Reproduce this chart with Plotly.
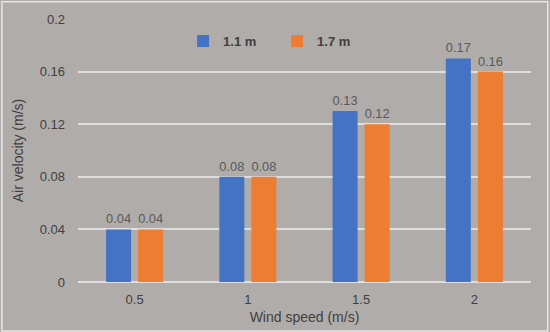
import plotly.graph_objects as go

categories = ["0.5", "1", "1.5", "2"]
series_names = ["1.1 m", "1.7 m"]
values_11 = [0.04, 0.08, 0.13, 0.17]
values_17 = [0.04, 0.08, 0.12, 0.16]
y_ticks = [0, 0.04, 0.08, 0.12, 0.16, 0.2]
y_tick_labels = ["0", "0.04", "0.08", "0.12", "0.16", "0.2"]

FONT = "Liberation Sans"
BG = "#b0acaa"

fig = go.Figure()
for name, vals, color in [(series_names[0], values_11, "#4472C4"),
                          (series_names[1], values_17, "#ED7D31")]:
    fig.add_trace(go.Bar(
        x=categories, y=vals, name=name,
        marker=dict(color=color, line=dict(width=0)),
        text=[f"{v:g}" for v in vals], textposition="outside",
        textfont=dict(family=FONT, size=13, color="#595959"),
        cliponaxis=False,
    ))

fig.update_layout(
    width=550, height=332,
    margin=dict(l=78, r=19, t=19, b=50, autoexpand=False),
    paper_bgcolor=BG, plot_bgcolor=BG,
    barmode="group", bargap=0.434, bargroupgap=0.22,
    font=dict(family=FONT, size=13, color="#404040"),
    showlegend=True,
    legend=dict(orientation="h", x=0.232, y=0.916, xanchor="left", yanchor="middle",
                bgcolor="rgba(0,0,0,0)", font=dict(family=FONT, size=13, color="#404040", weight="bold"),
                entrywidth=49, entrywidthmode="pixels", itemwidth=30, tracegroupgap=0),
    xaxis=dict(showgrid=False, showline=False, ticks="", automargin=False,
               ticklabelstandoff=8,
               tickfont=dict(size=13, color="#404040"),
               title=dict(text="Wind speed (m/s)", font=dict(size=14, color="#404040"), standoff=6)),
    yaxis=dict(range=[0, 0.2], tickvals=y_ticks, ticktext=y_tick_labels, automargin=False,
               showgrid=True, gridcolor="#dedede", gridwidth=1.5,
               zeroline=True, zerolinecolor="#dedede", zerolinewidth=1.5,
               ticks="", ticklabelstandoff=12, tickfont=dict(size=13, color="#404040"),
               title=dict(text="Air velocity (m/s)", font=dict(size=14, color="#404040"), standoff=12)),
    shapes=[dict(type="rect", xref="paper", yref="paper", x0=-0.168, x1=1.037, y0=-0.186, y1=1.066,
                 line=dict(color="#e6e6e6", width=1.5), fillcolor="rgba(0,0,0,0)", layer="below")],
)

fig.write_html("out.html", config={"displayModeBar": False},
               post_script="document.body.style.margin='0';document.body.style.padding='0';")
